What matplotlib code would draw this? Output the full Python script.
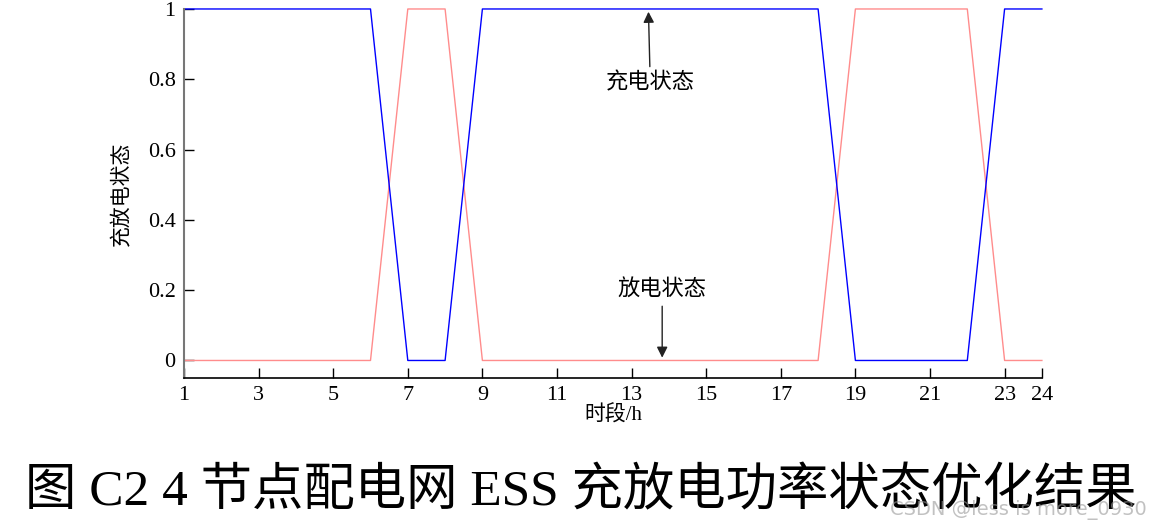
import matplotlib
matplotlib.use("Agg")
import matplotlib.pyplot as plt

# hourly ESS state (1 = active)
hours = list(range(1, 25))
charge_state = [1, 1, 1, 1, 1, 1, 0, 0, 1, 1, 1, 1, 1, 1, 1, 1, 1, 1, 0, 0, 0, 0, 1, 1]
discharge_state = [0, 0, 0, 0, 0, 0, 1, 1, 0, 0, 0, 0, 0, 0, 0, 0, 0, 0, 1, 1, 1, 1, 0, 0]
x_ticks = [1, 3, 5, 7, 9, 11, 13, 15, 17, 19, 21, 23, 24]
y_ticks = [0, 0.2, 0.4, 0.6, 0.8, 1]

fonts = ['Liberation Serif', 'Noto Sans CJK SC', 'DejaVu Sans']
plt.rcParams['font.family'] = fonts

fig = plt.figure(figsize=(11.5, 5.28), dpi=100)
ax = fig.add_axes([0.16, 0.284, 0.746, 0.699])

ax.plot(hours, discharge_state, color='#ff8c8c', lw=1.0, clip_on=False)
ax.plot(hours, charge_state, color='#0000ff', lw=1.0, clip_on=False)

ax.set_xlim(1, 24)
ax.set_ylim(-0.05, 1.0)
ax.set_xticks(x_ticks)
ax.set_xticklabels([str(t) for t in x_ticks])
ax.set_yticks(y_ticks)
ax.set_yticklabels(['0', '0.2', '0.4', '0.6', '0.8', '1'])
ax.tick_params(direction='in', length=7, width=1, labelsize=16, pad=6)

for side in ['top', 'right']:
    ax.spines[side].set_visible(False)
ax.spines['left'].set_color('#777777')
ax.spines['left'].set_linewidth(1.5)
ax.spines['bottom'].set_color('black')
ax.spines['bottom'].set_linewidth(1.2)

ax.set_ylabel('充放电状态', fontsize=15, labelpad=12)
ax.set_xlabel('时段/h', fontsize=15, labelpad=0)

arrow = dict(arrowstyle='-|>', color='#222222', lw=1.0, mutation_scale=16)
ax.annotate('充电状态', xy=(13.45, 1.0), xytext=(13.5, 0.79),
            ha='center', va='center', fontsize=16, arrowprops=arrow)
ax.annotate('放电状态', xy=(13.82, 0.0), xytext=(13.82, 0.2),
            ha='center', va='center', fontsize=16, arrowprops=arrow)

fig.text(0.505, 0.068, '图 C2 4 节点配电网 ESS 充放电功率状态优化结果',
         ha='center', va='center', fontsize=37)
fig.text(0.997, 0.035, 'CSDN @less is more_0930', ha='right', va='center',
         fontsize=14, color='#999999', alpha=0.6, family='DejaVu Sans')

fig.savefig('out.png', dpi=100)
